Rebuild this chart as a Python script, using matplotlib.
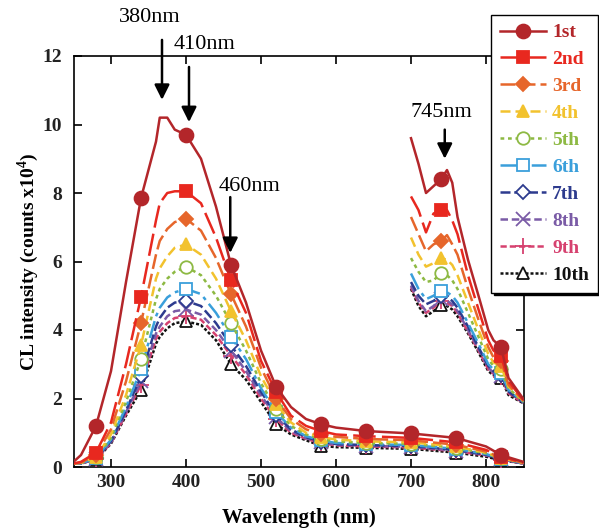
import matplotlib
matplotlib.use("Agg")
import matplotlib.pyplot as plt
import numpy as np

# ---------------- data ----------------
labels = ["1st", "2nd", "3rd", "4th", "5th", "6th", "7th", "8th", "9th", "10th"]

# main (lower) spectrum, 250-850 nm
x_main = [250, 260, 280, 300, 320, 340, 360, 365, 375, 385, 400, 420, 440, 460, 480,
          500, 520, 540, 560, 580, 600, 640, 700, 760, 800, 820, 850]
s1 = [0.15, 0.35, 1.2, 2.8, 5.4, 7.85, 9.5, 10.2, 10.2, 9.85, 9.7, 9.0, 7.6, 5.9, 4.8, 3.4, 2.35, 1.75, 1.4, 1.25, 1.15, 1.05, 0.98, 0.85, 0.6, 0.35, 0.15]
s2 = [0.10, 0.15, 0.42, 1.3, 3.0, 4.96, 7.2, 7.7, 8.0, 8.05, 8.05, 7.7, 6.7, 5.45, 4.5, 3.1, 2.2, 1.5, 1.2, 1.05, 0.95, 0.9, 0.85, 0.72, 0.5, 0.3, 0.13]
s3 = [0.10, 0.13, 0.35, 1.1, 2.5, 4.2, 6.2, 6.6, 6.95, 7.15, 7.25, 6.9, 6.1, 5.05, 4.1, 2.9, 2.0, 1.4, 1.1, 0.95, 0.88, 0.82, 0.78, 0.65, 0.45, 0.28, 0.12]
s4 = [0.10, 0.12, 0.30, 0.95, 2.1, 3.55, 5.5, 5.8, 6.15, 6.4, 6.5, 6.2, 5.5, 4.55, 3.7, 2.65, 1.85, 1.3, 1.0, 0.88, 0.8, 0.75, 0.72, 0.6, 0.42, 0.26, 0.12]
s5 = [0.10, 0.12, 0.28, 0.85, 1.9, 3.15, 4.9, 5.2, 5.5, 5.7, 5.85, 5.6, 5.0, 4.2, 3.4, 2.45, 1.7, 1.2, 0.95, 0.82, 0.75, 0.7, 0.68, 0.56, 0.4, 0.25, 0.12]
s6 = [0.10, 0.11, 0.26, 0.8, 1.75, 2.85, 4.4, 4.65, 4.95, 5.1, 5.2, 5.05, 4.5, 3.8, 3.15, 2.3, 1.6, 1.15, 0.9, 0.78, 0.7, 0.67, 0.64, 0.53, 0.38, 0.24, 0.11]
s7 = [0.10, 0.11, 0.25, 0.75, 1.65, 2.65, 4.1, 4.35, 4.65, 4.8, 4.85, 4.7, 4.2, 3.55, 2.95, 2.2, 1.52, 1.1, 0.87, 0.74, 0.67, 0.64, 0.61, 0.5, 0.36, 0.23, 0.11]
s8 = [0.10, 0.11, 0.24, 0.72, 1.6, 2.5, 3.9, 4.1, 4.4, 4.55, 4.6, 4.45, 4.0, 3.4, 2.8, 2.1, 1.45, 1.05, 0.84, 0.72, 0.65, 0.62, 0.59, 0.48, 0.35, 0.22, 0.11]
s9 = [0.10, 0.10, 0.23, 0.7, 1.55, 2.4, 3.75, 3.95, 4.2, 4.35, 4.4, 4.3, 3.85, 3.25, 2.7, 2.0, 1.4, 1.0, 0.82, 0.7, 0.63, 0.6, 0.57, 0.46, 0.34, 0.21, 0.10]
s10 = [0.10, 0.10, 0.22, 0.68, 1.5, 2.25, 3.6, 3.8, 4.05, 4.2, 4.25, 4.15, 3.7, 3.0, 2.55, 1.9, 1.25, 0.95, 0.78, 0.62, 0.58, 0.56, 0.53, 0.42, 0.3, 0.2, 0.10]
main_series = [s1, s2, s3, s4, s5, s6, s7, s8, s9, s10]
main_marker_x = [280, 340, 400, 460, 520, 580, 640, 700, 760, 820]

# upper segment, 700-850 nm
x_up = [700, 710, 720, 730, 740, 748, 755, 762, 776, 790, 803, 810, 820, 830, 850]
u1 = [9.6, 8.85, 8.0, 8.2, 8.4, 8.67, 8.3, 7.3, 6.05, 5.0, 4.0, 3.7, 3.5, 2.6, 1.98]
u2 = [7.9, 7.5, 6.85, 7.4, 7.5, 7.5, 7.2, 6.8, 5.6, 4.6, 3.7, 3.4, 3.25, 2.5, 1.95]
u3 = [7.3, 6.8, 6.3, 6.5, 6.6, 6.77, 6.5, 6.2, 5.2, 4.3, 3.5, 3.2, 3.1, 2.4, 1.93]
u4 = [6.7, 6.2, 5.85, 5.95, 6.1, 6.05, 5.9, 5.6, 4.8, 4.0, 3.3, 3.05, 2.95, 2.35, 1.92]
u5 = [6.1, 5.7, 5.4, 5.45, 5.65, 5.6, 5.45, 5.2, 4.5, 3.8, 3.15, 2.95, 2.85, 2.3, 1.9]
u6 = [5.65, 5.2, 4.9, 5.0, 5.15, 5.1, 5.0, 4.8, 4.2, 3.6, 3.0, 2.85, 2.75, 2.25, 1.9]
u7 = [5.4, 5.0, 4.75, 4.85, 5.0, 4.95, 4.85, 4.65, 4.1, 3.5, 2.95, 2.8, 2.7, 2.2, 1.88]
u8 = [5.3, 4.85, 4.55, 4.7, 4.9, 4.85, 4.75, 4.55, 4.0, 3.45, 2.9, 2.75, 2.65, 2.2, 1.88]
u9 = [5.25, 4.8, 4.5, 4.65, 4.85, 4.8, 4.7, 4.5, 3.95, 3.4, 2.85, 2.72, 2.62, 2.15, 1.87]
u10 = [5.2, 4.7, 4.4, 4.55, 4.72, 4.7, 4.6, 4.4, 3.9, 3.35, 2.8, 2.68, 2.6, 2.1, 1.86]
up_series = [u1, u2, u3, u4, u5, u6, u7, u8, u9, u10]
up_marker_x = [740, 820]

x_ticks = [300, 400, 500, 600, 700, 800]
y_ticks = [0, 2, 4, 6, 8, 10, 12]

# peak annotations
ann_labels = ["380nm", "410nm", "460nm", "745nm"]
ann_x = [368, 404, 459, 745]
ann_tip = [10.72, 10.07, 6.25, 9.0]
ann_tail = [12.47, 11.68, 7.88, 9.85]
ann_text_x = [352, 425, 485, 740]
ann_text_y = [13.13, 12.33, 8.19, 10.35]

# ---------------- styles ----------------
colors = ["#B3262A", "#E8281F", "#E6662B", "#F2C22E", "#8DB943",
          "#3A9FDB", "#2D3B8E", "#7A5BA6", "#D6416F", "#111111"]
linestyles = ["-", (0, (9, 2.5)), (0, (6, 2)), (0, (4, 2)), (0, (1.5, 1.5)),
              (0, (7, 2, 1.5, 2)), (0, (4, 1.5)), (0, (3, 1.5)), (0, (2.5, 1.2)), (0, (1.2, 0.8))]
markers = ["o", "s", "D", "^", "o", "s", "D", "x", "+", "^"]
filled = [True, True, True, True, False, False, False, True, True, False]
msizes = [10, 9, 7, 8, 9, 9, 7, 10, 11, 8]

plt.rcParams["font.family"] = ["Liberation Serif", "DejaVu Serif"]
plt.rcParams["mathtext.fontset"] = "custom"
plt.rcParams["mathtext.rm"] = "Liberation Serif"
plt.rcParams["mathtext.bf"] = "Liberation Serif:bold"

fig = plt.figure(figsize=(5.99, 5.31), dpi=100)
ax = fig.add_axes([73.5 / 599, 1 - 467 / 531, 450 / 599, 411 / 531])

handles = []
for i in range(10):
    c = colors[i]
    mfc = c if filled[i] else "white"
    idx_m = [x_main.index(v) for v in main_marker_x]
    h, = ax.plot(x_main, main_series[i], color=c, ls=linestyles[i], lw=1.8, marker=markers[i],
                 markevery=idx_m, ms=msizes[i], mfc=mfc, mec=c, mew=1.3,
                 zorder=20 - i, label=labels[i])
    idx_u = [x_up.index(v) for v in up_marker_x]
    ax.plot(x_up, up_series[i], color=c, ls=linestyles[i], lw=1.8, marker=markers[i],
            markevery=idx_u, ms=msizes[i], mfc=mfc, mec=c, mew=1.3, zorder=20 - i)
    handles.append(h)

ax.set_xlim(250, 850)
ax.set_ylim(0, 12)
ax.set_xticks(x_ticks)
ax.set_yticks(y_ticks)
ax.tick_params(direction="in", length=6, width=1.2, top=True, right=True,
               labelsize=14)
ax.tick_params(axis="x", pad=5)
ax.tick_params(axis="y", pad=8)
for lab in ax.get_xticklabels() + ax.get_yticklabels():
    lab.set_fontweight("bold")
    lab.set_color("#222222")
for sp in ax.spines.values():
    sp.set_linewidth(1.2)

ax.set_xlabel("Wavelength (nm)", fontsize=15, fontweight="bold", labelpad=12)
ax.set_ylabel(r"CL intensity (counts x10$^{\mathbf{4}}$)", fontsize=14,
              fontweight="bold", labelpad=1)

for lab, x, tip, tail, tx, ty in zip(ann_labels, ann_x, ann_tip, ann_tail, ann_text_x, ann_text_y):
    ax.annotate("", xy=(x, tip), xytext=(x, tail), annotation_clip=False,
                arrowprops=dict(arrowstyle="-|>,head_length=0.9,head_width=0.45",
                                color="black", lw=1.8, shrinkA=0, shrinkB=0),
                zorder=40)
    ax.text(tx, ty, lab, ha="center", va="center", fontsize=16, clip_on=False, zorder=40)

leg = fig.legend(handles=handles, loc="upper left",
                 bbox_to_anchor=(491 / 599, 1 - 15 / 531), frameon=True,
                 handlelength=2.4, handletextpad=0.3,
                 labelspacing=0.48, borderpad=0.45, borderaxespad=0,
                 fancybox=False, shadow={"color": "black", "alpha": 1.0},
                 prop={"weight": "bold", "size": 14})
leg.get_frame().set_edgecolor("black")
leg.get_frame().set_linewidth(1.0)
for t, c in zip(leg.get_texts(), colors):
    t.set_color(c)

fig.savefig("out.png", dpi=100)
